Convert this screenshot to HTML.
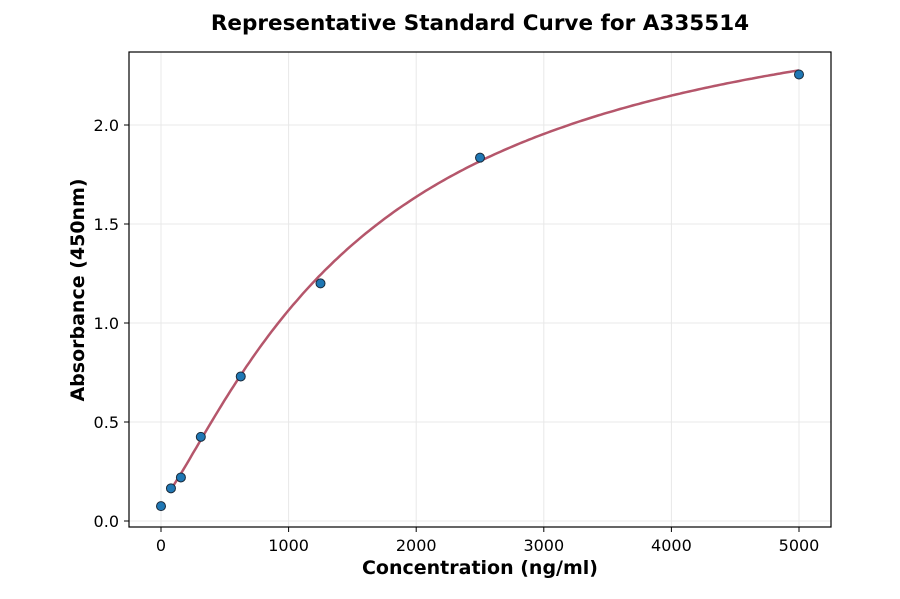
<!DOCTYPE html>
<html><head><meta charset="utf-8"><style>
body{margin:0;background:#fff;font-family:"Liberation Sans","DejaVu Sans",sans-serif}
svg text{font-family:"DejaVu Sans","Liberation Sans",sans-serif}
</style></head><body>
<svg id="chart" width="900" height="594" xmlns="http://www.w3.org/2000/svg">
<text x="480" y="30" text-anchor="middle" font-size="21.5" font-weight="bold">Representative Standard Curve for A335514</text>
<g id="grid"></g>
<g id="curve"></g>
<g id="points"></g>
<rect x="129" y="52" width="702" height="475" fill="none" stroke="#000" stroke-width="1.2"/>
<g id="xticks"></g><g id="yticks"></g>
<text x="480" y="574" text-anchor="middle" font-size="19" font-weight="bold">Concentration (ng/ml)</text>
<text transform="translate(84,290) rotate(-90)" text-anchor="middle" font-size="19" font-weight="bold">Absorbance (450nm)</text>
</svg>
<script>
const concentrations=[0,78,156,312,625,1250,2500,5000];
const absorbances=[0.075,0.165,0.22,0.425,0.73,1.2,1.835,2.255];
const xTicks=[0,1000,2000,3000,4000,5000];
const yTicks=[0.0,0.5,1.0,1.5,2.0];
const fitParams=[0.1,2.8,1600,1.25]; // a,d,c,b (4PL)
const NS="http://www.w3.org/2000/svg";
const X=v=>161+v*0.1276;
const Y=v=>521-v*198;
function mk(tag,attrs,parent){const e=document.createElementNS(NS,tag);for(const k in attrs)e.setAttribute(k,attrs[k]);document.getElementById(parent).appendChild(e);return e;}
xTicks.forEach(t=>{
 const g=mk('line',{x1:X(t),x2:X(t),y1:52,y2:527,stroke:'#e8e8e8','stroke-width':1},'grid');
 
 
 const l=mk('line',{x1:X(t),x2:X(t),y1:527,y2:532,stroke:'#000'},'xticks');
 
 
 const tx=mk('text',{x:X(t),y:551,'text-anchor':'middle','font-size':16},'xticks');tx.textContent=t;
 
 
});
yTicks.forEach(t=>{
 const g=mk('line',{x1:129,x2:831,y1:Y(t),y2:Y(t),stroke:'#e8e8e8','stroke-width':1},'grid');
 
 
 const l=mk('line',{x1:124,x2:129,y1:Y(t),y2:Y(t),stroke:'#000'},'yticks');
 
 
 const tx=mk('text',{x:119,y:Y(t)+6,'text-anchor':'end','font-size':16},'yticks');tx.textContent=t.toFixed(1);
 
 
});
const [a,d,c,b]=fitParams;
let pts=[];
const x0=concentrations[1],x1=concentrations[concentrations.length-1];
for(let i=0;i<=200;i++){const x=x0+(x1-x0)*i/200;const y=d+(a-d)/(1+Math.pow(x/c,b));pts.push(X(x).toFixed(1)+','+Y(y).toFixed(1));}
const path=mk('polyline',{points:pts.join(' '),fill:'none',stroke:'#b5566b','stroke-width':2.5},'curve');


concentrations.forEach((cv,i)=>{
 const p=mk('circle',{cx:X(cv),cy:Y(absorbances[i]),r:4.5,fill:'#1f77b4',stroke:'#1a2a3a','stroke-width':1},'points');
 
 
});
</script>
</body></html>
